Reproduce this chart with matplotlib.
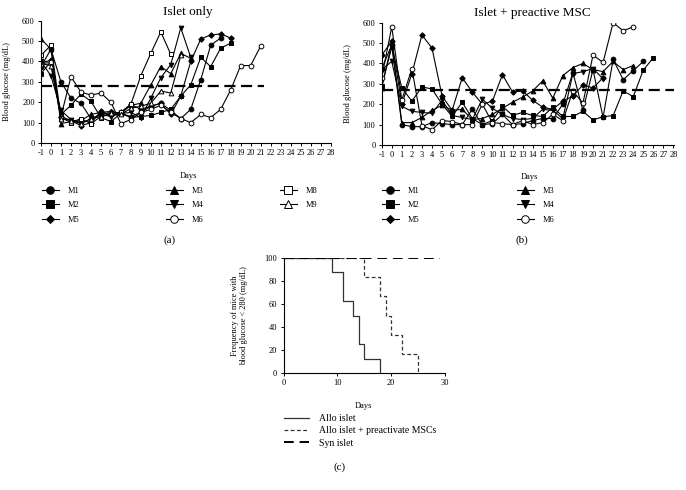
import numpy as np
import matplotlib
matplotlib.use('Agg')
import matplotlib.pyplot as plt

# Blood glucose (mg/dL) per mouse, one value per day starting at day -1
islet_only = {
    'M1': [375, 460, 300, 220, 195, 120, 140, 150, 145, 130, 150, 180, 195, 160, 120, 165, 310, 480, 515],
    'M2': [340, 400, 140, 185, 240, 205, 125, 105, 145, 125, 130, 135, 150, 165, 230, 285, 420, 375, 465, 490],
    'M3': [510, 460, 95, 105, 110, 140, 150, 155, 145, 185, 195, 285, 375, 340, 440, 415],
    'M4': [400, 330, 160, 115, 100, 110, 140, 130, 145, 150, 125, 220, 320, 385, 565, 420],
    'M5': [395, 405, 130, 110, 85, 100, 155, 135, 150, 190, 165, 180, 195, 140, 230, 400, 510, 530, 535, 515],
    'M6': [390, 395, 130, 325, 250, 235, 245, 200, 95, 115, 150, 165, 185, 150, 120, 100, 140, 125, 165, 260, 380, 380, 475],
    'M8': [430, 480, 125, 100, 120, 95, 130, 140, 150, 190, 330, 440, 545, 435],
    'M9': [390, 380, 120, 110, 95, 120, 130, 145, 140, 170, 180, 195, 255, 245, 430],
}
islet_msc = {
    'M1': [375, 490, 100, 90, 90, 110, 105, 100, 100, 175, 100, 105, 150, 100, 105, 120, 130, 130, 200, 355, 170, 370, 135, 420, 320, 365, 410],
    'M2': [290, 480, 280, 215, 285, 275, 200, 140, 210, 130, 100, 120, 190, 145, 160, 145, 140, 185, 140, 140, 165, 123, 139, 144, 266, 237, 368, 428],
    'M3': [280, 500, 110, 110, 135, 170, 195, 170, 175, 125, 130, 150, 180, 210, 235, 265, 315, 230, 340, 380, 400, 370, 360, 410, 370, 390],
    'M4': [370, 410, 190, 165, 160, 155, 220, 145, 135, 125, 225, 180, 150, 130, 125, 130, 175, 170, 130, 350, 360, 375, 325],
    'M5': [440, 510, 200, 350, 540, 475, 240, 170, 330, 260, 200, 215, 345, 260, 265, 220, 185, 175, 215, 240, 295, 280, 330],
    'M6': [330, 580, 220, 375, 95, 75, 120, 115, 100, 100, 200, 110, 105, 100, 120, 100, 110, 150, 120, 265, 205, 441, 405, 600, 560, 580],
}
threshold_a = 278
threshold_b = 268

# Survival-style curves: % of mice with blood glucose < 280 mg/dL
allo_days = [0, 9, 11, 13, 14, 15, 18]
allo_pct = [100, 87.5, 62.5, 50, 25, 12.5, 0]
msc_days = [0, 15, 18, 19, 20, 22, 25]
msc_pct = [100, 83.3, 66.7, 50, 33.3, 16.7, 0]
syn_days = [0, 29]
syn_pct = [100, 100]

markers = {'M1': ('o', 'k'), 'M2': ('s', 'k'), 'M3': ('^', 'k'), 'M4': ('v', 'k'),
           'M5': ('D', 'k'), 'M6': ('o', 'w'), 'M8': ('s', 'w'), 'M9': ('^', 'w')}

plt.rcParams['font.family'] = ['Liberation Serif', 'DejaVu Serif']
plt.rcParams['axes.unicode_minus'] = False
W, H = 686, 490
fig = plt.figure(figsize=(W / 100, H / 100), dpi=100)


def px_axes(l, t, r, b):
    return fig.add_axes([l / W, 1 - b / H, (r - l) / W, (b - t) / H])


def style_axes(ax):
    for s in ['top', 'right']:
        ax.spines[s].set_visible(False)
    for s in ['left', 'bottom']:
        ax.spines[s].set_linewidth(0.8)
    ax.tick_params(labelsize=6, length=2.5, width=0.7, pad=2)


def glucose_panel(ax, data, thr, thr_end, title, tx, ty):
    lines = {}
    for name, vals in data.items():
        m, fc = markers[name]
        d = np.arange(-1, -1 + len(vals))
        ms = 3.4 if m != 'D' else 2.8
        lines[name], = ax.plot(d, vals, color='k', lw=0.8, marker=m, ms=ms,
                               mfc=fc, mec='k', mew=0.7, label=name)
    ax.plot([-1, thr_end], [thr, thr], color='k', lw=1.6, ls=(0, (5, 2.5)))
    ax.set_xlim(-1, 28.05)
    ax.set_ylim(0, 600)
    ax.set_xticks(np.arange(-1, 29))
    ax.set_yticks(np.arange(0, 601, 100))
    style_axes(ax)
    ax.tick_params(axis='x', labelsize=6, pad=2)
    ax.set_xlabel('Days', fontsize=6)
    ax.set_ylabel('Blood glucose (mg/dL)', fontsize=6)
    ax.text(tx, ty, title, transform=ax.transAxes, ha='center', va='center', fontsize=9.5)
    return lines


def col_legend(handles, x, y):
    fig.legend(handles=handles, loc='upper left', bbox_to_anchor=(x / W, 1 - y / H),
               frameon=False, fontsize=6, handlelength=2.0, handletextpad=1.1,
               labelspacing=0.75, borderpad=0, borderaxespad=0, markerscale=1.6)


# (a) islet only
ax1 = px_axes(41, 20.7, 331, 143)
la = glucose_panel(ax1, islet_only, threshold_a, 21.3, 'Islet only', 0.505, 1.074)
ax1.xaxis.set_label_coords(0.507, -0.237)
ax1.yaxis.set_label_coords(-0.103, 0.5)
col_legend([la['M1'], la['M2'], la['M5']], 42, 187)
col_legend([la['M3'], la['M4'], la['M6']], 166, 187)
col_legend([la['M8'], la['M9']], 280, 187)
fig.text(170 / W, 1 - 240 / H, '(a)', ha='center', va='center', fontsize=8)

# (b) islet + preactive MSC
ax2 = px_axes(381.7, 22.7, 674, 145)
lb = glucose_panel(ax2, islet_msc, threshold_b, 28.3, 'Islet + preactive MSC', 0.514, 1.082)
ax2.xaxis.set_label_coords(0.505, -0.226)
ax2.yaxis.set_label_coords(-0.102, 0.5)
col_legend([lb['M1'], lb['M2'], lb['M5']], 382, 187)
col_legend([lb['M3'], lb['M4'], lb['M6']], 517, 187)
fig.text(522 / W, 1 - 240 / H, '(b)', ha='center', va='center', fontsize=8)

# (c) fraction of normoglycemic mice
ax3 = px_axes(283.5, 258, 445, 373)
ax3.step(allo_days, allo_pct, where='post', color='#333333', lw=0.9, label='Allo islet')
ax3.step(msc_days, msc_pct, where='post', color='#333333', lw=0.9, ls=(0, (3, 2)),
         label='Allo islet + preactivate MSCs')
ax3.plot(syn_days, syn_pct, color='k', lw=1.4, ls=(0, (5, 3)), label='Syn islet')
ax3.set_xlim(0, 30)
ax3.set_ylim(0, 100)
ax3.set_xticks([0, 10, 20, 30])
ax3.set_yticks(np.arange(0, 101, 20))
style_axes(ax3)
ax3.set_xlabel('Days', fontsize=6)
ax3.set_ylabel('Frequency of mice with\nblood glucose < 280 (mg/dL)', fontsize=6, linespacing=1.3)
ax3.xaxis.set_label_coords(0.497, -0.252)
ax3.yaxis.set_label_coords(-0.217, 0.5)
fig.legend(*ax3.get_legend_handles_labels(), loc='upper left',
           bbox_to_anchor=(284 / W, 1 - 414 / H), frameon=False, fontsize=7,
           handlelength=2.6, handletextpad=1.0, labelspacing=0.35,
           borderpad=0, borderaxespad=0)
fig.text(340 / W, 1 - 467 / H, '(c)', ha='center', va='center', fontsize=8)

fig.savefig('out.png', dpi=100)
